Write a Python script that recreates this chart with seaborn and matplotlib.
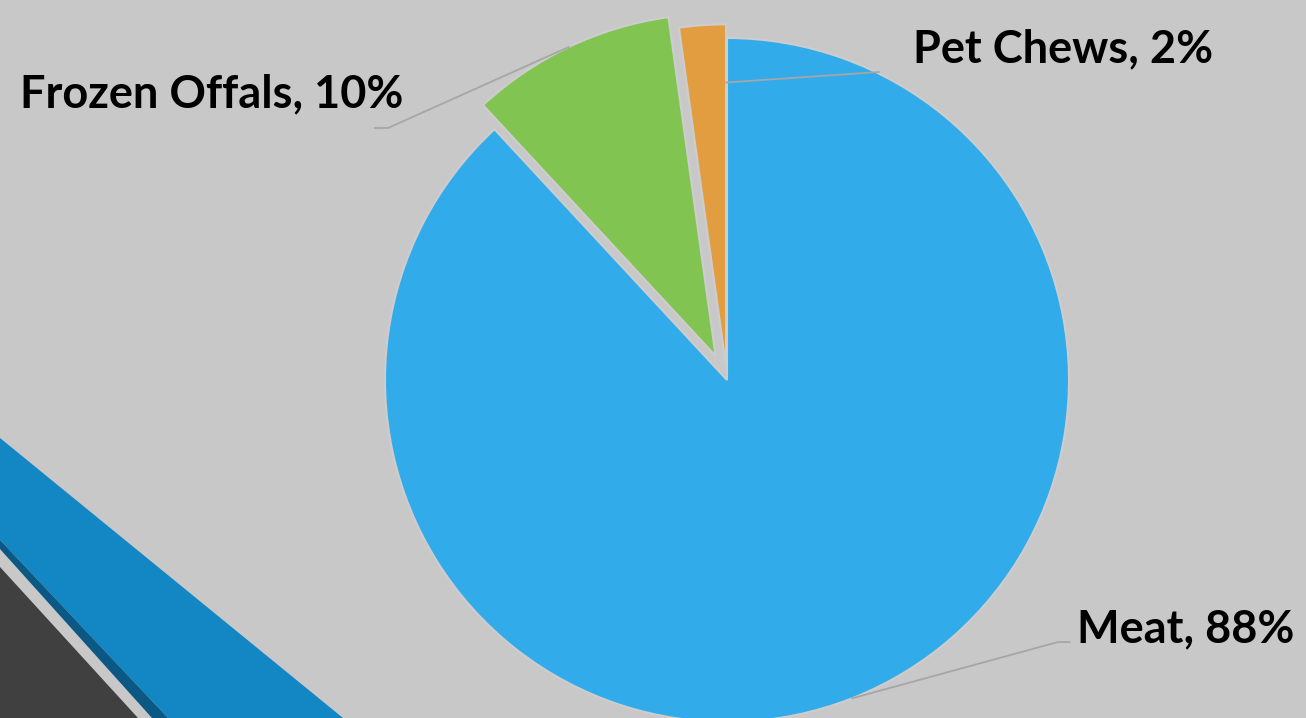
import numpy as np
import seaborn as sns
import matplotlib.pyplot as plt
from matplotlib.patches import Polygon

# data (labels show rounded percentages)
categories = ['Meat', 'Frozen Offals', 'Pet Chews']
shares = [88.1, 9.7, 2.2]
slice_colors = ['#31abea', '#82c451', '#e29d40']
explode = [0, 0.078, 0.04]

sns.set_style('white')
plt.rcParams['font.family'] = ['Lato', 'DejaVu Sans']

BG = '#c8c8c8'
W, H = 1306, 718
fig = plt.figure(figsize=(W / 100, H / 100), dpi=100, facecolor=BG)

# decorative stripes bottom-left (pixel coords, y from top)
def fig_poly(pts, color):
    pts = [(x / W, 1 - y / H) for x, y in pts]
    fig.patches.append(Polygon(pts, closed=True, transform=fig.transFigure,
                               facecolor=color, edgecolor='none', zorder=0))

fig_poly([(0, 438), (343, 718), (168, 718), (0, 540)], '#1287c4')
fig_poly([(0, 540), (168, 718), (152, 718), (0, 549)], '#0a5883')
fig_poly([(0, 567), (138, 718), (0, 718)], '#404040')

ax = fig.add_axes([0, 0, 1, 1])
ax.set_facecolor('none')
ax.axis('off')

# pie centre at (727, 380) px, radius 342 px
cx, cy, R = 727, 380, 342

wedges, _ = ax.pie(shares, colors=slice_colors, startangle=90, counterclock=False,
                   explode=explode, radius=1,
                   wedgeprops=dict(edgecolor='#cdcdcd', linewidth=1.5))
ax.set_xlim(-cx / R, (W - cx) / R)
ax.set_ylim(-(H - cy) / R, cy / R)

def px(x, y):
    return (x - cx) / R, (cy - y) / R

# label layout: text anchor, elbow, line end (px) and radial position of leader start
label_pos = [(1077, 642), (20, 107), (913, 62)]
elbows = [(1058, 642), (388, 128), (879, 72)]
ends = [(1070, 642), (375, 128), (879, 72)]
leader_r = [1.0, 1.0, 0.83]

for w, cat, val, tp, el, en, lr in zip(wedges, categories, shares, label_pos, elbows, ends, leader_r):
    ang = np.deg2rad((w.theta1 + w.theta2) / 2)
    if cat == 'Pet Chews':
        ang = np.deg2rad(w.theta1)
    c = w.center
    start = (c[0] + lr * np.cos(ang), c[1] + lr * np.sin(ang))
    e1, e2 = px(*el), px(*en)
    ax.plot([start[0], e1[0], e2[0]], [start[1], e1[1], e2[1]],
            color='#a6a6a6', lw=1.3, zorder=5)
    t = px(*tp)
    ax.text(t[0], t[1], f'{cat}, {val:.0f}%', ha='left', va='baseline',
            fontsize=32.5, fontweight='bold', color='black')

fig.savefig('out.png', dpi=100, facecolor=BG)
